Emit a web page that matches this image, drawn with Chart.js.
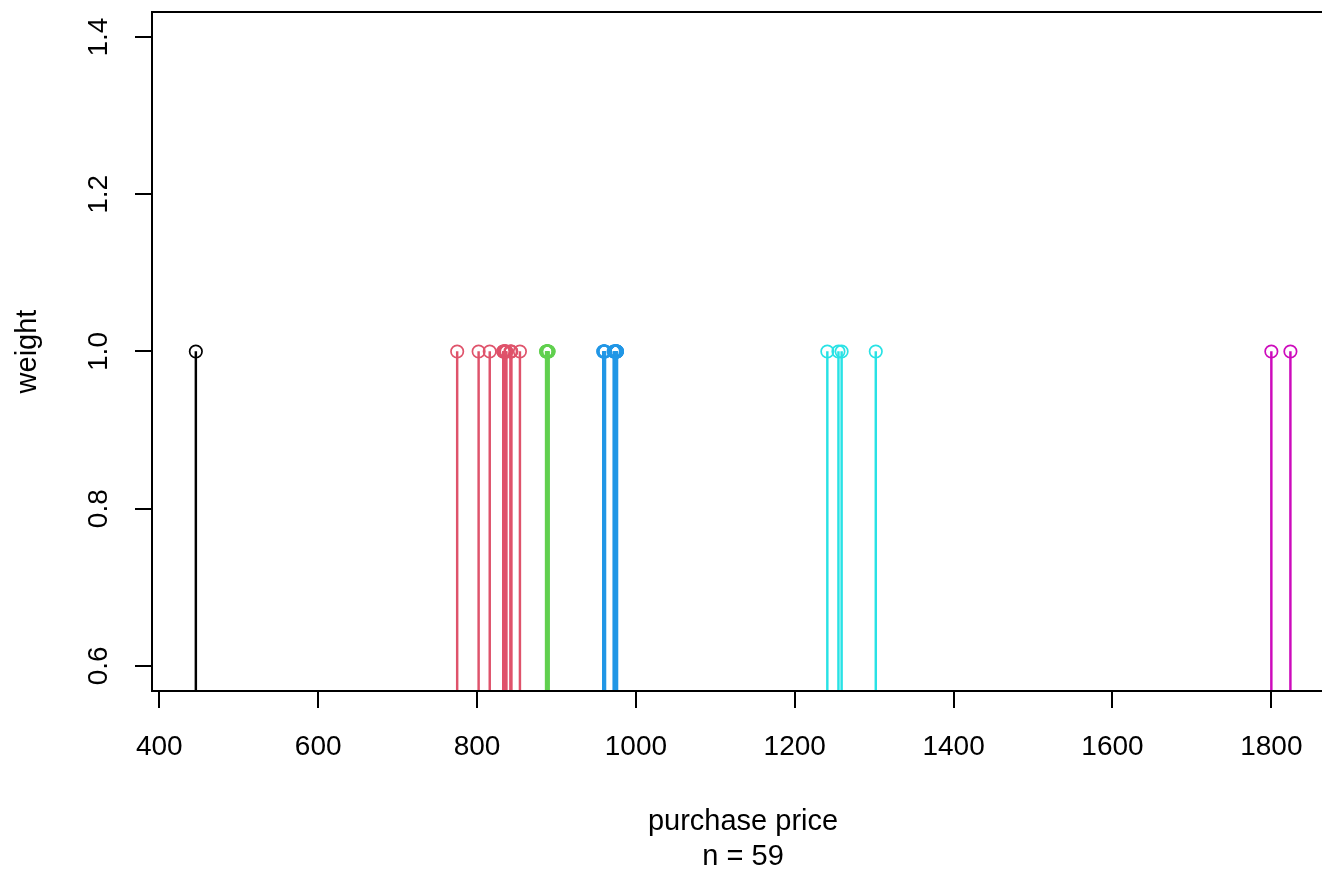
<!DOCTYPE html>
<html>
<head>
<meta charset="utf-8">
<title>purchase price vs weight</title>
<script src="https://cdn.jsdelivr.net/npm/chart.js@4.4.1/dist/chart.umd.min.js"></script>
<style>
    html, body { margin: 0; padding: 0; background: #fff; overflow: hidden; }
</style>
</head>
<body>
<canvas id="stemChart" width="1342" height="870"></canvas>
<script>
// purchase prices per cluster (colours follow the R 4 palette)
var priceBlack   = [446];
var priceRed     = [775, 802, 816, 833, 833, 834, 834, 835, 835, 836, 836, 837, 842, 843, 843, 854];
var priceGreen   = [887, 887, 888, 888, 888, 888, 889, 889, 889, 889, 890, 890];
var priceBlue    = [959, 959, 960, 960, 960, 961, 961, 972, 973, 973, 974, 974, 974, 974,
                    975, 975, 975, 975, 975, 976, 976, 976, 976, 976];
var priceCyan    = [1241, 1255, 1259, 1302];
var priceMagenta = [1800, 1824];
var weight = 1;

var xMin = 390.8, xMax = 1879;
var yMin = 0.568, yMax = 1.432;
var xStep = 200, yStep = 0.2;

var groups = [
    { prices: priceBlack,   color: "#000000" },
    { prices: priceRed,     color: "#DF536B" },
    { prices: priceGreen,   color: "#61D04F" },
    { prices: priceBlue,    color: "#2297E6" },
    { prices: priceCyan,    color: "#28E2E5" },
    { prices: priceMagenta, color: "#CD0BBC" }
];

var fontFamily = "'Liberation Sans', Arial, Helvetica, sans-serif";

var datasets = [];
groups.forEach(function(g) {
    var pts = g.prices.map(function(p) { return { x: p, y: weight }; });
    // the stems
    datasets.push({
        type: "bar",
        data: pts,
        backgroundColor: g.color,
        borderWidth: 0,
        barThickness: 1.8,
        grouped: false,
        base: yMin,
        order: 2
    });
    // the open circles on top
    datasets.push({
        type: "scatter",
        data: pts,
        borderColor: g.color,
        backgroundColor: "rgba(0,0,0,0)",
        pointRadius: 6.2,
        pointBorderWidth: 1.7,
        pointStyle: "circle",
        order: 1
    });
});

var boxPlugin = {
    id: "box",
    afterDraw: function(chart) {
        var ctx = chart.ctx, a = chart.chartArea;
        ctx.save();
        ctx.strokeStyle = "#000";
        ctx.lineWidth = 2;
        ctx.strokeRect(a.left, a.top, a.right - a.left, a.bottom - a.top);
        ctx.restore();
    }
};

var stemChart = new Chart(document.getElementById("stemChart"), {
    type: "bar",
    data: { datasets: datasets },
    plugins: [boxPlugin],
    options: {
        responsive: false,
        animation: false,
        layout: { padding: { top: 12, right: 2, bottom: 0, left: 0 } },
        plugins: {
            legend: { display: false },
            tooltip: { enabled: false }
        },
        scales: {
            x: {
                type: "linear",
                min: xMin,
                max: xMax,
                offset: false,
                afterFit: function(s) {
                    s.height = 179;
                    s.paddingLeft = 0;
                    s.paddingRight = 0;
                },
                border: { display: false },
                grid: { offset: false, drawOnChartArea: false, drawTicks: true, tickLength: 17, color: "#000", lineWidth: 2 },
                ticks: {
                    stepSize: xStep,
                    includeBounds: false,
                    autoSkip: false,
                    maxRotation: 0,
                    padding: 22,
                    color: "#000",
                    font: { family: fontFamily, size: 28 },
                    callback: function(v) { return String(v); }
                },
                title: {
                    display: true,
                    text: ["purchase price", "n = 59"],
                    color: "#000",
                    font: { family: fontFamily, size: 29, lineHeight: 1.2 },
                    padding: { top: 0, bottom: -4 }
                }
            },
            y: {
                type: "linear",
                min: yMin,
                max: yMax,
                afterFit: function(s) {
                    s.width = 152;
                    s.paddingTop = 0;
                    s.paddingBottom = 0;
                },
                border: { display: false },
                grid: { drawOnChartArea: false, drawTicks: true, tickLength: 17, color: "#000", lineWidth: 2 },
                ticks: {
                    stepSize: yStep,
                    includeBounds: false,
                    minRotation: 90,
                    maxRotation: 90,
                    crossAlign: "center",
                    padding: 16,
                    color: "#000",
                    font: { family: fontFamily, size: 28 },
                    callback: function(v) { return v.toFixed(1); }
                },
                title: {
                    display: true,
                    text: "weight",
                    color: "#000",
                    font: { family: fontFamily, size: 29, lineHeight: 1.2 },
                    padding: { top: 11, bottom: 0 }
                }
            }
        }
    }
});
</script>
</body>
</html>
